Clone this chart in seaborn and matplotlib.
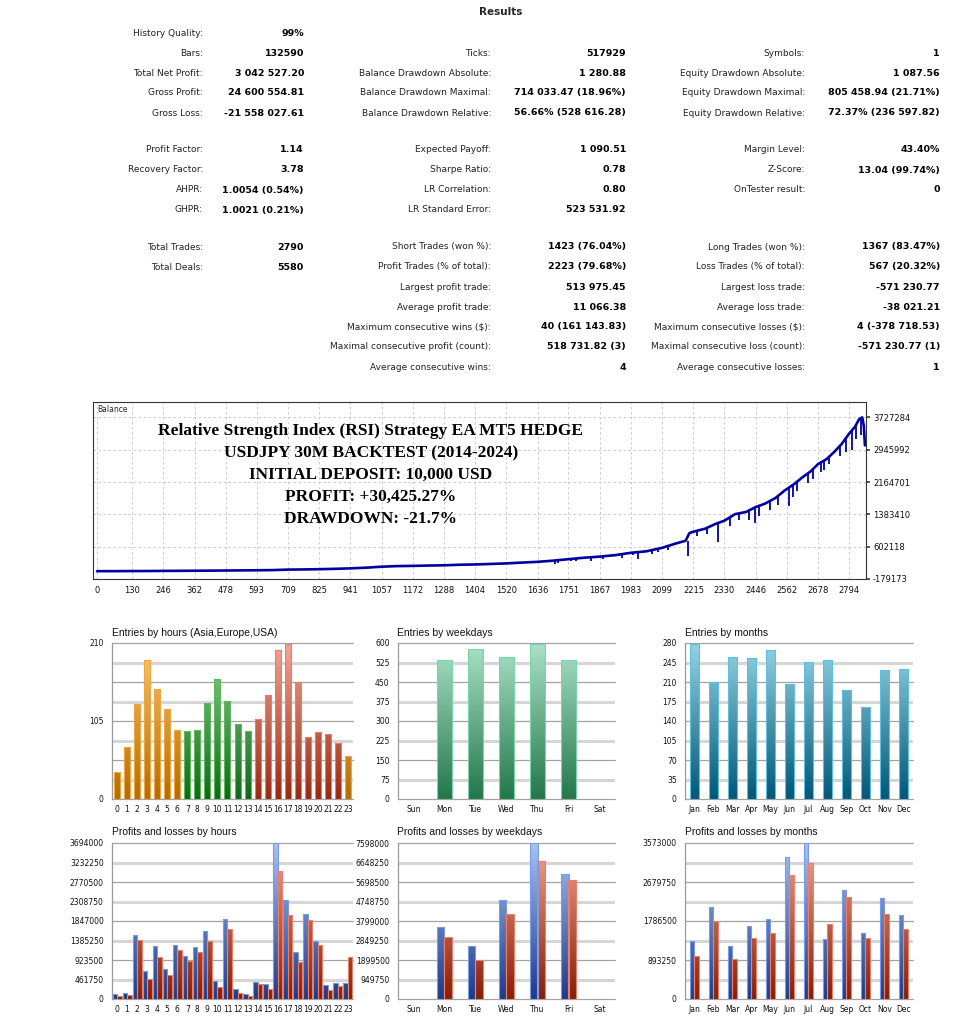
import numpy as np
import pandas as pd
import matplotlib
matplotlib.use("Agg")
import matplotlib.pyplot as plt
from matplotlib.colors import LinearSegmentedColormap
import seaborn as sns

W, H = 954, 1032

# ---------------- results table ----------------
col1_labels = ["History Quality:", "Bars:", "Total Net Profit:", "Gross Profit:", "Gross Loss:",
               "Profit Factor:", "Recovery Factor:", "AHPR:", "GHPR:",
               "Total Trades:", "Total Deals:", None, None, None, None, None]
col1_values = ["99%", "132590", "3 042 527.20", "24 600 554.81", "-21 558 027.61",
               "1.14", "3.78", "1.0054 (0.54%)", "1.0021 (0.21%)",
               "2790", "5580", None, None, None, None, None]
col2_labels = [None, "Ticks:", "Balance Drawdown Absolute:", "Balance Drawdown Maximal:", "Balance Drawdown Relative:",
               "Expected Payoff:", "Sharpe Ratio:", "LR Correlation:", "LR Standard Error:",
               "Short Trades (won %):", "Profit Trades (% of total):", "Largest profit trade:",
               "Average profit trade:", "Maximum consecutive wins ($):",
               "Maximal consecutive profit (count):", "Average consecutive wins:"]
col2_values = [None, "517929", "1 280.88", "714 033.47 (18.96%)", "56.66% (528 616.28)",
               "1 090.51", "0.78", "0.80", "523 531.92",
               "1423 (76.04%)", "2223 (79.68%)", "513 975.45",
               "11 066.38", "40 (161 143.83)", "518 731.82 (3)", "4"]
col3_labels = [None, "Symbols:", "Equity Drawdown Absolute:", "Equity Drawdown Maximal:", "Equity Drawdown Relative:",
               "Margin Level:", "Z-Score:", "OnTester result:", None,
               "Long Trades (won %):", "Loss Trades (% of total):", "Largest loss trade:",
               "Average loss trade:", "Maximum consecutive losses ($):",
               "Maximal consecutive loss (count):", "Average consecutive losses:"]
col3_values = [None, "1", "1 087.56", "805 458.94 (21.71%)", "72.37% (236 597.82)",
               "43.40%", "13.04 (99.74%)", "0", None,
               "1367 (83.47%)", "567 (20.32%)", "-571 230.77",
               "-38 021.21", "4 (-378 718.53)", "-571 230.77 (1)", "1"]

# ---------------- balance curve ----------------
bal_trade = [0, 60, 130, 200, 246, 300, 362, 420, 478, 540, 593, 650, 709, 770, 825, 880, 941,
             1000, 1057, 1110, 1172, 1230, 1288, 1350, 1404, 1460, 1520, 1580, 1636, 1690, 1751,
             1810, 1867, 1925, 1983, 2040, 2099, 2150, 2186, 2200, 2215, 2260, 2296, 2330, 2370,
             2410, 2446, 2480, 2520, 2554, 2590, 2620, 2650, 2678, 2710, 2739, 2765, 2794, 2815,
             2831, 2842, 2848, 2852]
bal_value = [10000, 10500, 13000, 14000, 17000, 18500, 21000, 23000, 26000, 29000, 32000, 36000,
             48000, 52000, 58000, 66000, 78000, 95000, 118000, 132000, 138000, 146000, 152000,
             166000, 172000, 184000, 198000, 218000, 236000, 262000, 300000, 336000, 362000,
             398000, 455000, 490000, 575000, 680000, 745000, 930000, 965000, 1040000, 1150000,
             1230000, 1390000, 1440000, 1560000, 1640000, 1780000, 1960000, 2120000, 2280000,
             2420000, 2600000, 2720000, 2900000, 3080000, 3340000, 3500000, 3690000, 3727284,
             3520000, 3052527]
spike_trade = [1580, 1640, 1700, 1712, 1760, 1780, 1836, 1880, 1950, 1990, 2011, 2060, 2085,
               2120, 2195, 2230, 2265, 2306, 2350, 2385, 2420, 2444, 2460, 2500, 2530, 2569,
               2585, 2600, 2640, 2660, 2690, 2700, 2720, 2760, 2780, 2803, 2820, 2836]
spike_top = [218000, 238000, 265000, 275000, 305000, 315000, 352000, 370000, 420000, 460000,
             495000, 520000, 560000, 620000, 750000, 990000, 1050000, 1170000, 1300000, 1410000,
             1480000, 1550000, 1600000, 1700000, 1820000, 2030000, 2100000, 2180000, 2380000,
             2480000, 2650000, 2700000, 2780000, 3050000, 3200000, 3400000, 3550000, 3700000]
spike_low = [175000, 200000, 190000, 200000, 255000, 262000, 250000, 312000, 330000, 400000,
             300000, 420000, 470000, 520000, 374000, 850000, 920000, 716000, 1100000, 1250000,
             1250000, 1170000, 1350000, 1500000, 1600000, 1580000, 1800000, 1950000, 2150000,
             2250000, 2400000, 2450000, 2610000, 2800000, 2900000, 2940000, 3200000, 3300000]
bal_xticks = [0, 130, 246, 362, 478, 593, 709, 825, 941, 1057, 1172, 1288, 1404, 1520, 1636,
              1751, 1867, 1983, 2099, 2215, 2330, 2446, 2562, 2678, 2794]
bal_yticks = [-179173, 602118, 1383410, 2164701, 2945992, 3727284]
overlay_lines = ["Relative Strength Index (RSI) Strategy EA MT5 HEDGE",
                 "USDJPY 30M BACKTEST (2014-2024)",
                 "INITIAL DEPOSIT: 10,000 USD",
                 "PROFIT: +30,425.27%",
                 "DRAWDOWN: -21.7%"]

# ---------------- distributions ----------------
hours = [str(h) for h in range(24)]
hour_entries = [36, 70, 128, 187, 148, 121, 93, 91, 93, 129, 161, 132, 101, 92, 108, 140, 200,
                209, 158, 84, 90, 88, 75, 58]
hour_session = ["asia"] * 7 + ["europe"] * 7 + ["usa"] * 9 + ["asia"]
hour_profit = [118650, 134470, 1518720, 672350, 1257690, 711900, 1281420, 1020390, 1233960,
               1613640, 419230, 1890490, 229390, 118650, 395500, 348040, 3694000, 2349270,
               1107400, 2009140, 1368430, 340130, 371770, 379680]
hour_loss = [79100, 94920, 1400070, 474600, 996660, 569520, 1162770, 909650, 1107400, 1384250,
             284760, 1669010, 134470, 71190, 348040, 237300, 3037440, 1985410, 878010, 1874670,
             1281420, 213570, 316400, 996660]

weekdays = ["Sun", "Mon", "Tue", "Wed", "Thu", "Fri", "Sat"]
weekday_entries = [0, 534, 576, 547, 597, 536, 0]
weekday_profit = [0, 3530590, 2586930, 4832190, 7598000, 6084980, 0]
weekday_loss = [0, 3026220, 1919860, 4132580, 6719510, 5792120, 0]

months = ["Jan", "Feb", "Mar", "Apr", "May", "Jun", "Jul", "Aug", "Sep", "Oct", "Nov", "Dec"]
month_entries = [279, 210, 254, 253, 267, 206, 246, 249, 195, 165, 232, 234]
month_profit = [1323620, 2104030, 1224160, 1683220, 1820940, 3244020, 3573000, 1377180, 2494230,
                1514900, 2310600, 1920400]
month_loss = [986980, 1782680, 925770, 1392480, 1507250, 2846170, 3113960, 1713820, 2325900,
              1407780, 1943350, 1606710]

hour_ticks = [0, 26.25, 52.5, 78.75, 105, 131.25, 157.5, 183.75, 210]
hour_ticklabels = ["0", "", "", "", "105", "", "", "", "210"]
weekday_ticks = [0, 75, 150, 225, 300, 375, 450, 525, 600]
month_ticks = [0, 35, 70, 105, 140, 175, 210, 245, 280]
hour_pl_ticks = [0, 461750, 923500, 1385250, 1847000, 2308750, 2770500, 3232250, 3694000]
weekday_pl_ticks = [0, 949750, 1899500, 2849250, 3799000, 4748750, 5698500, 6648250, 7598000]
month_pl_ticks = [0, 446625, 893250, 1339875, 1786500, 2233125, 2679750, 3126375, 3573000]
month_pl_ticklabels = ["0", "", "893250", "", "1786500", "", "2679750", "", "3573000"]

# gradient colours (bottom -> top) and outline
styles = {
    "asia": ("#b56c00", "#fbc772", "#f2a53a"),
    "europe": ("#0d6a14", "#93d293", "#5cb85c"),
    "usa": ("#992810", "#f2a896", "#e57f6c"),
    "week": ("#23774b", "#abe2c8", "#7cd4aa"),
    "month": ("#005877", "#96d3e5", "#5dc0e0"),
    "profit": ("#1c3a8a", "#a6c2f5", "#7a9ce8"),
    "loss": ("#8a1c06", "#f2a690", "#e8806a"),
}


def cmap_of(key):
    lo, hi, _ = styles[key]
    return LinearSegmentedColormap.from_list(key, [lo, hi])


def px_axes(l, t, r, b):
    return fig.add_axes([l / W, 1 - b / H, (r - l) / W, (b - t) / H])


def ftext(x, y, s, **kw):
    fig.text(x / W, 1 - y / H, s, **kw)


def gradient_bars(ax, bars, keys, ymax):
    grad = np.linspace(0, 1, 256).reshape(-1, 1)
    for bar, key in zip(bars, keys):
        if bar.get_height() <= 0:
            bar.set_visible(False)
            continue
        x0, w = bar.get_x(), bar.get_width()
        im = ax.imshow(grad, extent=[x0, x0 + w, 0, ymax], origin="lower", aspect="auto",
                       cmap=cmap_of(key), zorder=2, interpolation="bilinear")
        im.set_clip_path(bar)
        bar.set_facecolor("none")
        bar.set_edgecolor(styles[key][2])
        bar.set_linewidth(0.8)
        bar.set_zorder(3)


def style_bars(ax, ticks, labels, ncat):
    ax.set_xlim(-0.5, ncat - 0.5)
    ax.set_ylim(0, ticks[-1])
    for i, v in enumerate(ticks):
        if i % 2 == 0:
            ax.axhline(v, color="#a3a3a3", lw=0.9, zorder=1, clip_on=False)
        else:
            ax.axhline(v, color="#d6d6d6", lw=2.2, zorder=1)
    ax.set_yticks(ticks)
    ax.set_yticklabels(labels)
    for s in ["top", "right", "bottom"]:
        ax.spines[s].set_visible(False)
    ax.spines["left"].set_color("#9a9a9a")
    ax.spines["left"].set_linewidth(0.9)
    ax.set_xticks(np.arange(-0.5, ncat), minor=True)
    ax.tick_params(axis="x", which="major", length=0, labelsize=5.5, pad=4, colors="#111111")
    ax.tick_params(axis="x", which="minor", length=4, color="#9a9a9a")
    ax.tick_params(axis="y", length=4, color="#9a9a9a", labelsize=5.5, pad=2, colors="#111111")
    ax.set_xlabel("")
    ax.set_ylabel("")


sns.set_theme(style="white")
plt.rcParams["font.family"] = ["DejaVu Sans"]

fig = plt.figure(figsize=(W / 100, H / 100), dpi=100)

# ---- results table ----
row_y = [33, 53, 73, 93, 113, 150, 170, 190, 210, 247, 267, 287, 307, 327, 347, 367]
label_right = [203, 491, 805]
value_right = [304, 626, 940]
ftext(501, 12, "Results", ha="center", va="center", fontsize=7.5, fontweight="bold")
for c, (labs, vals) in enumerate([(col1_labels, col1_values), (col2_labels, col2_values),
                                  (col3_labels, col3_values)]):
    for i, (lab, val) in enumerate(zip(labs, vals)):
        if lab is None:
            continue
        ftext(label_right[c], row_y[i], lab, ha="right", va="center", fontsize=6.5, color="#222222")
        ftext(value_right[c], row_y[i], val, ha="right", va="center", fontsize=6.8,
              fontweight="bold", color="#000000")

# ---- balance graph ----
axb = px_axes(93, 402, 866, 579)
sns.lineplot(x=bal_trade, y=bal_value, ax=axb, color="#0000a0", lw=1.9)
axb.vlines(spike_trade, spike_low, spike_top, color="#0000a0", lw=1.3)
axb.set_xlim(-15, 2856)
axb.set_ylim(-179173, 4100000)
axb.set_xticks(bal_xticks)
axb.set_xticklabels([str(v) for v in bal_xticks])
axb.yaxis.tick_right()
axb.set_yticks(bal_yticks)
axb.set_yticklabels([str(v) for v in bal_yticks])
axb.grid(True, ls=(0, (3, 3)), color="#c4c4c4", lw=0.6)
axb.tick_params(labelsize=6, length=3, color="#444444", pad=2, colors="#111111")
for s in axb.spines.values():
    s.set_color("#333333")
    s.set_linewidth(0.8)
axb.text(0.005, 0.985, "Balance", transform=axb.transAxes, ha="left", va="top", fontsize=5.5)
for k, line in enumerate(overlay_lines):
    ftext(371, 431 + 22 * k, line, ha="center", va="center", fontsize=12.5, fontweight="bold",
          family=["Liberation Serif", "DejaVu Serif"], color="#000000")

# ---- bar charts ----
rect_row1 = (643, 799)
rect_row2 = (843, 999)
cols = [(112, 353), (398, 615), (685, 913)]

# entries by hours
ax = px_axes(cols[0][0], rect_row1[0], cols[0][1], rect_row1[1])
df = pd.DataFrame({"hour": hours, "n": hour_entries})
sns.barplot(data=df, x="hour", y="n", order=hours, ax=ax, width=0.6, color="#f0a030")
gradient_bars(ax, ax.containers[0], hour_session, hour_ticks[-1])
style_bars(ax, hour_ticks, hour_ticklabels, 24)

# entries by weekdays
ax = px_axes(cols[1][0], rect_row1[0], cols[1][1], rect_row1[1])
df = pd.DataFrame({"day": weekdays, "n": weekday_entries})
sns.barplot(data=df, x="day", y="n", order=weekdays, ax=ax, width=0.5, color="#40a070")
gradient_bars(ax, ax.containers[0], ["week"] * 7, weekday_ticks[-1])
style_bars(ax, weekday_ticks, [str(v) for v in weekday_ticks], 7)

# entries by months
ax = px_axes(cols[2][0], rect_row1[0], cols[2][1], rect_row1[1])
df = pd.DataFrame({"month": months, "n": month_entries})
sns.barplot(data=df, x="month", y="n", order=months, ax=ax, width=0.5, color="#3090b0")
gradient_bars(ax, ax.containers[0], ["month"] * 12, month_ticks[-1])
style_bars(ax, month_ticks, [str(v) for v in month_ticks], 12)


def pl_chart(col, cats, profit, loss, ticks, labels, width):
    ax = px_axes(cols[col][0], rect_row2[0], cols[col][1], rect_row2[1])
    df = pd.DataFrame({"cat": cats * 2, "v": profit + loss,
                       "kind": ["Profit"] * len(cats) + ["Loss"] * len(cats)})
    sns.barplot(data=df, x="cat", y="v", hue="kind", order=cats, hue_order=["Profit", "Loss"],
                palette=["#3050a0", "#b03020"], ax=ax, width=width, legend=False)
    gradient_bars(ax, ax.containers[0], ["profit"] * len(cats), ticks[-1])
    gradient_bars(ax, ax.containers[1], ["loss"] * len(cats), ticks[-1])
    style_bars(ax, ticks, labels, len(cats))
    return ax


pl_chart(0, hours, hour_profit, hour_loss, hour_pl_ticks, [str(v) for v in hour_pl_ticks], 0.9)
pl_chart(1, weekdays, weekday_profit, weekday_loss, weekday_pl_ticks,
         [str(v) for v in weekday_pl_ticks], 0.48)
pl_chart(2, months, month_profit, month_loss, month_pl_ticks, month_pl_ticklabels, 0.5)

titles = ["Entries by hours (Asia,Europe,USA)", "Entries by weekdays", "Entries by months",
          "Profits and losses by hours", "Profits and losses by weekdays", "Profits and losses by months"]
for k, t in enumerate(titles):
    x = [112, 397, 685][k % 3]
    y = 633 if k < 3 else 832
    ftext(x, y, t, ha="left", va="center", fontsize=7.5, family=["Liberation Sans", "DejaVu Sans"],
          color="#111111")

fig.savefig("out.png", dpi=100, facecolor="white")
